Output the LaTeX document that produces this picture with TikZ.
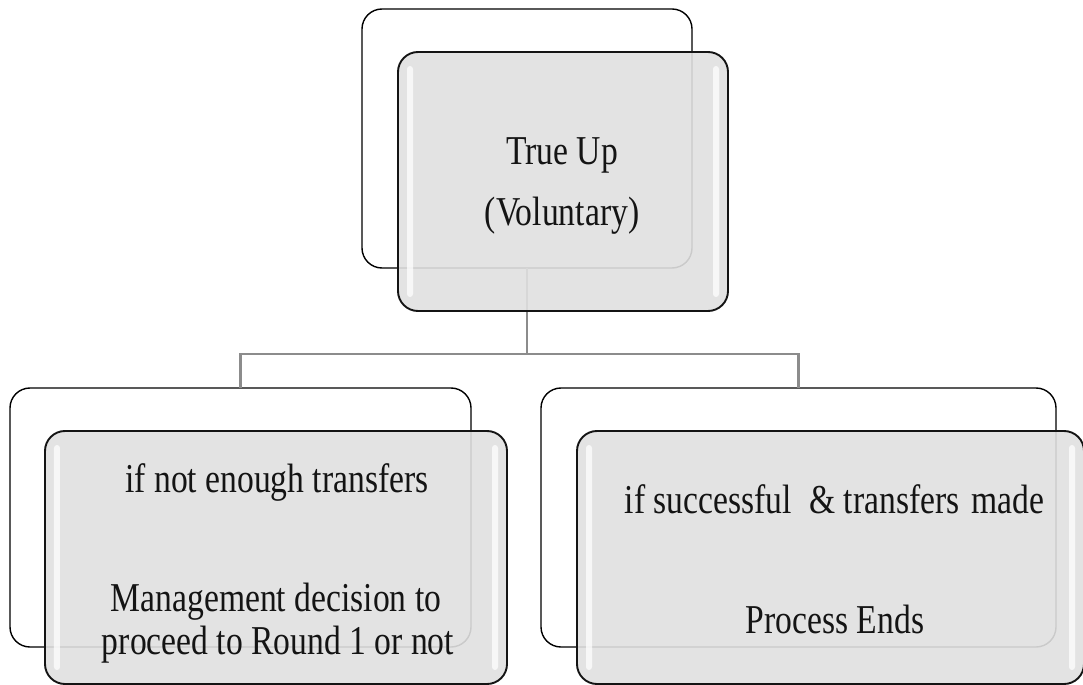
\documentclass[tikz,border=0pt]{standalone}
\usepackage{fontspec}
\setmainfont{Liberation Serif}[FakeStretch=0.82]
\begin{document}
\begin{tikzpicture}[x=1bp,y=-1bp,
  backbox/.style={draw=black, line width=1.4bp, fill=white, rounded corners=20bp,
    inner sep=0pt, outer sep=0pt},
  frontbox/.style={draw=black!92, line width=1.9bp, fill=boxgray, fill opacity=0.9,
    rounded corners=20bp, inner sep=0pt, outer sep=0pt},
  gloss/.style={fill=white, opacity=0.75, rounded corners=3bp},
  conn/.style={draw=conngray, line width=2.2bp},
  txt/.style={anchor=base, inner sep=0pt, text=black!92,
    font=\fontsize{41bp}{48bp}\selectfont}
]
\definecolor{boxgray}{RGB}{224,224,224}
\definecolor{conngray}{RGB}{140,140,140}
\useasboundingbox (0,0) rectangle (1083,685);

% back cards
\node[backbox, minimum width=330bp, minimum height=259bp] (tb) at (527,138.5) {};
\node[backbox, minimum width=461bp, minimum height=259bp] (lb) at (240.5,517.5) {};
\node[backbox, minimum width=515bp, minimum height=259bp] (rb) at (798.5,517.5) {};

% tree connectors
\coordinate (bus) at (527,354);
\draw[conn] (tb.south) -- (bus);
\draw[conn] (lb.north) |- (bus);
\draw[conn] (rb.north) |- (bus);

% front cards
\node[frontbox, minimum width=330bp, minimum height=259bp] (tf) at (563,181.5) {};
\node[frontbox, minimum width=462bp, minimum height=253bp] (lf) at (276,557.5) {};
\node[frontbox, minimum width=507bp, minimum height=253bp] (rf) at (830.5,557.5) {};

% glossy edge highlights
\foreach \f in {tf,lf,rf}{
  \fill[gloss] ([shift={(9bp,-14bp)}]\f.north west) rectangle ([shift={(15bp,14bp)}]\f.south west);
  \fill[gloss] ([shift={(-15bp,-14bp)}]\f.north east) rectangle ([shift={(-9bp,14bp)}]\f.south east);
}

% labels
\node[txt] (t1) at (562,165) {True Up};
\node[txt] (t2) at (562,225) {(Voluntary)};
\node[txt] (l1) at (277,492) {if not enough transfers};
\node[txt] (l2) at (276,611) {Management decision to};
\node[txt] (l3) at (278,654) {proceed to Round 1 or not};
\node[txt] (r1) at (834.5,513) {if successful\hspace{0.22em} \& transfers\hspace{0.08em} made};
\node[txt] (r2) at (835,633) {Process Ends};
\end{tikzpicture}
\end{document}
